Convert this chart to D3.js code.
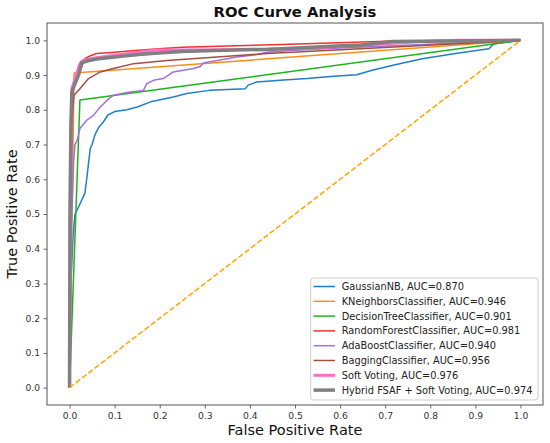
<!DOCTYPE html>
<html>
<head>
<meta charset="utf-8">
<script src="https://cdn.jsdelivr.net/npm/d3@7/dist/d3.min.js"></script>
<style>
  html, body { margin: 0; padding: 0; background: #fff; }
  svg { display: block; font-family: "DejaVu Sans", sans-serif; }
</style>
</head>
<body>
<svg id="chart" width="550" height="443"></svg>
<script>
// ---------- Data ----------
const modelNames = [
  "GaussianNB, AUC=0.870",
  "KNeighborsClassifier, AUC=0.946",
  "DecisionTreeClassifier, AUC=0.901",
  "RandomForestClassifier, AUC=0.981",
  "AdaBoostClassifier, AUC=0.940",
  "BaggingClassifier, AUC=0.956",
  "Soft Voting, AUC=0.976",
  "Hybrid FSAF + Soft Voting, AUC=0.974"
];

const gnbFpr = [0,0.003,0.008,0.012,0.02,0.027,0.034,0.038,0.042,0.046,0.05,0.057,0.065,0.075,0.085,0.1,0.127,0.15,0.18,0.23,0.26,0.31,0.39,0.396,0.415,0.467,0.527,0.585,0.637,0.671,0.722,0.782,0.856,0.93,0.941,1];
const gnbTpr = [0,0.3,0.44,0.5,0.52,0.54,0.56,0.6,0.645,0.69,0.7,0.73,0.75,0.765,0.785,0.795,0.8,0.808,0.823,0.837,0.847,0.856,0.861,0.871,0.88,0.885,0.89,0.897,0.901,0.914,0.93,0.947,0.962,0.976,0.99,1];

const knnFpr = [0,0.01,1];
const knnTpr = [0,0.906,1];

const dtFpr = [0,0.023,1];
const dtTpr = [0,0.828,1];

const rfFpr = [0,0.002,0.005,0.01,0.016,0.023,0.03,0.034,0.045,0.06,0.1,0.145,0.19,0.25,0.35,0.47,0.65,0.72,1];
const rfTpr = [0,0.55,0.8,0.88,0.9,0.91,0.935,0.947,0.955,0.962,0.966,0.971,0.975,0.98,0.984,0.988,0.995,0.998,1];

const adaFpr = [0,0.004,0.009,0.012,0.017,0.023,0.038,0.053,0.068,0.083,0.097,0.134,0.164,0.171,0.186,0.208,0.23,0.275,0.29,0.297,0.371,0.415,0.438,0.489,0.6,1];
const adaTpr = [0,0.45,0.65,0.7,0.712,0.746,0.77,0.784,0.808,0.827,0.842,0.851,0.856,0.875,0.885,0.89,0.909,0.919,0.925,0.935,0.952,0.959,0.966,0.971,0.978,1];

const bagFpr = [0,0.003,0.007,0.01,0.023,0.042,0.068,0.097,0.142,0.216,0.327,0.438,0.645,1];
const bagTpr = [0,0.6,0.8,0.842,0.861,0.89,0.909,0.919,0.933,0.942,0.952,0.962,0.976,1];

const softFpr = [0,0.002,0.005,0.01,0.016,0.022,0.027,0.04,0.06,0.1,0.15,0.19,0.25,0.35,0.45,0.54,0.62,0.7,0.78,0.86,0.96,1];
const softTpr = [0,0.6,0.86,0.88,0.905,0.93,0.94,0.945,0.95,0.957,0.965,0.972,0.972,0.973,0.975,0.977,0.985,0.99,0.997,1,1,1];

const hybridFpr = [0,0.001,0.003,0.005,0.012,0.02,0.027,0.042,0.064,0.116,0.153,0.19,0.249,0.32,0.438,0.504,0.593,0.645,0.715,1];
const hybridTpr = [0,0.5,0.75,0.85,0.875,0.9,0.935,0.942,0.947,0.954,0.959,0.963,0.968,0.971,0.974,0.978,0.984,0.986,0.997,1];

const chanceFpr = [0,1];
const chanceTpr = [0,1];

const tickValues = [0,0.1,0.2,0.3,0.4,0.5,0.6,0.7,0.8,0.9,1.0];

// ---------- Styling ----------
const colors = ["#1f7fcc","#ff8c1a","#1db31d","#f5302e","#a66ddb","#a0503f","#ff6ec7","#808080"];
const widths = [1.5,1.5,1.5,1.5,1.5,1.5,3,3.5];

const series = [
  [gnbFpr,gnbTpr],[knnFpr,knnTpr],[dtFpr,dtTpr],[rfFpr,rfTpr],
  [adaFpr,adaTpr],[bagFpr,bagTpr],[softFpr,softTpr],[hybridFpr,hybridTpr]
].map((s,i) => ({
  name: modelNames[i], color: colors[i], width: widths[i],
  points: s[0].map((f,j) => [f, s[1][j]])
}));

const svg = d3.select("#chart");
const L = 47, R = 543, T = 23, B = 405;

const x = d3.scaleLinear().domain([-0.05,1.05]).range([L,R]);
const y = d3.scaleLinear().domain([-0.05,1.05]).range([B,T]);

svg.append("defs").append("clipPath").attr("id","clip")
  .append("rect").attr("x",L).attr("y",T).attr("width",R-L).attr("height",B-T);

const line = d3.line().x(d => x(d[0])).y(d => y(d[1]));

const g = svg.append("g").attr("clip-path","url(#clip)");
series.forEach(s => {
  g.append("path").datum(s.points)
    .attr("fill","none").attr("stroke",s.color)
    .attr("stroke-width",s.width).attr("stroke-linejoin","round")
    .attr("d",line);
});
g.append("path").datum(chanceFpr.map((f,i)=>[f,chanceTpr[i]]))
  .attr("fill","none").attr("stroke","#ffa500").attr("stroke-width",1.5)
  .attr("stroke-dasharray","5.5,2.4").attr("d",line);

// Axes
const fmt = d3.format(".1f");
const xAxis = svg.append("g").attr("transform",`translate(0,${B})`)
  .call(d3.axisBottom(x).tickValues(tickValues).tickFormat(fmt).tickSize(3.5).tickPadding(3.5));
const yAxis = svg.append("g").attr("transform",`translate(${L},0)`)
  .call(d3.axisLeft(y).tickValues(tickValues).tickFormat(fmt).tickSize(3.5).tickPadding(3.5));
[xAxis,yAxis].forEach(a => {
  a.select(".domain").remove();
  a.selectAll("text").attr("font-family","DejaVu Sans").attr("font-size",9.2).attr("fill","#333");
  a.selectAll("line").attr("stroke","#444").attr("stroke-width",0.8);
});

// Frame
svg.append("rect").attr("x",L).attr("y",T).attr("width",R-L).attr("height",B-T)
  .attr("fill","none").attr("stroke","#555").attr("stroke-width",1);

// Title & labels
svg.append("text").attr("x",(L+R)/2).attr("y",17).attr("text-anchor","middle")
  .attr("font-size",14.8).attr("font-weight","bold").attr("fill","#111").text("ROC Curve Analysis");
svg.append("text").attr("x",(L+R)/2).attr("y",435).attr("text-anchor","middle")
  .attr("font-size",14.5).attr("fill","#111").text("False Positive Rate");
svg.append("text").attr("transform",`translate(17,${(T+B)/2}) rotate(-90)`)
  .attr("text-anchor","middle").attr("font-size",14.5).attr("fill","#111").text("True Positive Rate");

// Legend
const lg = svg.append("g");
lg.append("rect").attr("x",310.7).attr("y",278).attr("width",227.3).attr("height",122)
  .attr("rx",3).attr("fill","#fff").attr("fill-opacity",0.85).attr("stroke","#ccc").attr("stroke-width",1);
series.forEach((s,i) => {
  const yy = 286.5 + i*14.8;
  lg.append("line").attr("x1",313.5).attr("x2",335).attr("y1",yy).attr("y2",yy)
    .attr("stroke",s.color).attr("stroke-width",s.width);
  lg.append("text").attr("x",341.7).attr("y",yy).attr("dy","0.35em")
    .attr("font-size",9.8).attr("fill","#222").text(s.name);
});
</script>
</body>
</html>
